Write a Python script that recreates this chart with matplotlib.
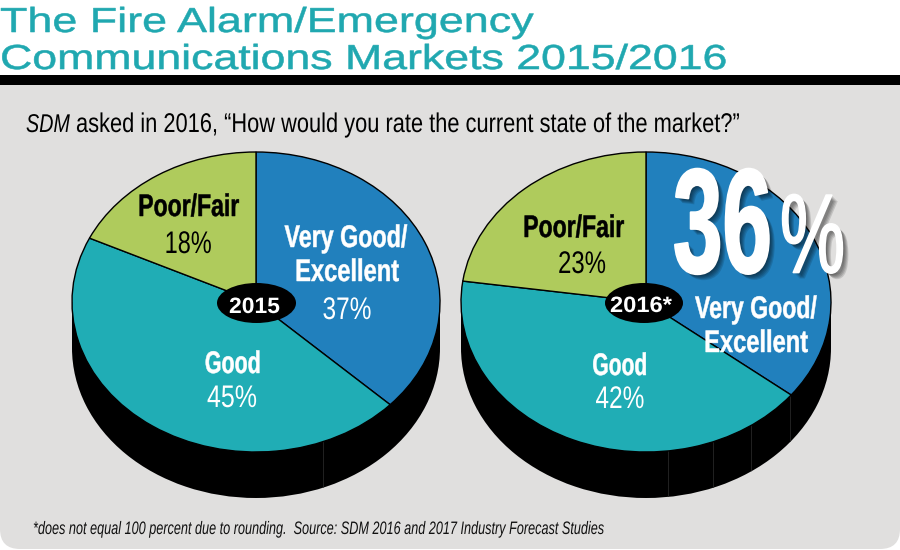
import matplotlib
matplotlib.use('Agg')
import matplotlib.pyplot as plt
from matplotlib.patches import FancyBboxPatch, Rectangle, Ellipse
from matplotlib.patheffects import AbstractPathEffect
from matplotlib.text import Text
from matplotlib.transforms import Affine2D, Bbox

# shares, clockwise from 12 o'clock
shares_2015 = [37, 45, 18]
shares_2016 = [36, 42, 23]
colors = ['#2180bd', '#20adb5', '#afcb5c']
title_lines = ['The Fire Alarm/Emergency', 'Communications Markets 2015/2016']
question = 'asked in 2016, \u201cHow would you rate the current state of the market?\u201d'
footnote = '*does not equal 100 percent due to rounding.  Source: SDM 2016 and 2017 Industry Forecast Studies'

W, H = 900, 550
FONT = 'Liberation Sans'
TEAL = '#20a8b0'


class Stretch(AbstractPathEffect):
    # rescales a glyph run horizontally, with optional outline and soft drop shadow
    def __init__(self, xscale, centered, shadow=False, stroke=0):
        super().__init__()
        self.xscale, self.centered, self.shadow, self.stroke = xscale, centered, shadow, stroke

    def draw_path(self, renderer, gc, tpath, affine, rgbFace=None):
        box = tpath.get_extents()
        c = (box.x0 + box.x1) / 2 if self.centered else 0
        t = Affine2D().translate(-c, 0).scale(self.xscale, 1).translate(c, 0) + affine
        if self.shadow:
            for d in range(1, 7):
                gc0 = renderer.new_gc()
                gc0.copy_properties(gc)
                gc0.set_alpha(0.13)
                renderer.draw_path(gc0, tpath, t + Affine2D().translate(d, -d), (0, 0, 0))
                gc0.restore()
        if self.stroke:
            gc.set_linewidth(self.stroke)
            gc.set_foreground(rgbFace, isRGBA=True)
        renderer.draw_path(gc, tpath, t, rgbFace)


class FitText(Text):
    # text whose reported extent follows the horizontal rescale
    xscale = 1.0

    def get_window_extent(self, renderer=None, dpi=None):
        box = super().get_window_extent(renderer, dpi)
        x0 = box.x0 + box.width / 2 if self.get_ha() == 'center' else box.x0
        return Bbox([[x0 + (box.x0 - x0) * self.xscale, box.y0],
                     [x0 + (box.x1 - x0) * self.xscale, box.y1]])


def put(x, y, s, width, size, color='black', shadow=False, stroke=0, **kw):
    t = FitText(x, y, s, color=color, fontsize=size, family=FONT, va='baseline', **kw)
    top.add_artist(t)
    natural = t.get_window_extent(fig.canvas.get_renderer()).width
    t.xscale = width / natural
    t.set_path_effects([Stretch(t.xscale, t.get_ha() == 'center', shadow, stroke)])
    return t


def draw_pie(cx, rx, shares, side_lines):
    cy, ry, depth = 302, 150, 46
    # axes spans the top face plus the black rim below it
    ax = fig.add_axes([(cx - rx) / W, 1 - (cy + ry + depth) / H, 2 * rx / W, (2 * ry + depth) / H])
    rim, _ = ax.pie([1], colors=['black'], radius=1, center=(0, -depth / ry), startangle=90,
                    wedgeprops={'linewidth': 0})
    ax.add_patch(Rectangle((-1, -depth / ry), 2, depth / ry, color='black', lw=0))
    for x in side_lines:
        line, = ax.plot([x, x], [-1.4, -0.5], color='#222222', lw=0.7, zorder=1.5)
        line.set_clip_path(rim[0])
    ax.pie(shares, colors=colors, radius=1, startangle=90, counterclock=False,
           wedgeprops={'linewidth': 1.0, 'edgecolor': 'black', 'zorder': 2})
    ax.set_aspect('auto')
    ax.set_xlim(-1, 1)
    ax.set_ylim(-1 - depth / ry, 1)
    ax.axis('off')
    ax.patch.set_alpha(0)


fig = plt.figure(figsize=(W / 100, H / 100), dpi=100, facecolor='white')
bg = fig.add_axes([0, 0, 1, 1])
bg.set_xlim(0, W)
bg.set_ylim(H, 0)
bg.axis('off')
bg.add_patch(FancyBboxPatch((0, 40), W, 509, boxstyle='round,pad=0,rounding_size=20',
                            fc='#e0dfde', ec='none'))
bg.add_patch(Rectangle((0, 0), W, 75, fc='white', ec='none'))
bg.add_patch(Rectangle((0, 75), W, 10, fc='black', ec='none'))

draw_pie(256, 184, shares_2015, [0.364])
draw_pie(646, 185, shares_2016, [0.119, 0.362, 0.568, 0.778])

top = fig.add_axes([0, 0, 1, 1])
top.set_xlim(0, W)
top.set_ylim(H, 0)
top.axis('off')
top.patch.set_alpha(0)

# header
put(0, 32, title_lines[0], 534, 25, TEAL, stroke=0.4)
put(0, 69, title_lines[1], 728, 25, TEAL, stroke=0.4)
put(26, 132, 'SDM', 44, 18.5, style='italic')
put(76, 132, question, 665, 19.5)
put(33, 534, footnote, 569, 13, color='#111111', style='italic')

# year badges in the middle of each pie
top.add_patch(Ellipse((256.5, 303), 79, 40, fc='black', ec='none'))
put(254.5, 313, '2015', 51, 16, 'white', weight='bold', ha='center')
top.add_patch(Ellipse((644, 303), 78, 40, fc='black', ec='none'))
put(641, 312, '2016*', 62, 16, 'white', weight='bold', ha='center')

# 2015 slice labels
bold = {'weight': 'bold', 'ha': 'center', 'stroke': 0.35}
put(346, 247, 'Very Good/', 123, 22.5, 'white', **bold)
put(347, 281, 'Excellent', 104, 22.5, 'white', **bold)
put(347, 319, f'{shares_2015[0]}%', 49, 22.5, 'white', ha='center')
put(233, 373, 'Good', 56, 22.5, 'white', **bold)
put(232, 407, f'{shares_2015[1]}%', 50, 22.5, 'white', ha='center')
put(188.5, 216, 'Poor/Fair', 101, 22.5, **bold)
put(188, 253, f'{shares_2015[2]}%', 47, 22.5, ha='center')

# 2016 slice labels
put(573.5, 237, 'Poor/Fair', 101, 22.5, **bold)
put(582, 273, f'{shares_2016[2]}%', 48, 22.5, ha='center')
put(620, 375, 'Good', 55, 22.5, 'white', **bold)
put(620, 408, f'{shares_2016[1]}%', 49, 22.5, 'white', ha='center')
put(756, 318, 'Very Good/', 122, 22.5, 'white', **bold)
put(756, 352, 'Excellent', 104, 22.5, 'white', **bold)

# oversized callout
put(673, 272.5, f'{shares_2016[0]}', 99, 107, 'white', shadow=True, stroke=1.5, weight='bold')
put(780, 272.5, '%', 65, 81, 'white', shadow=True, stroke=1.2)

fig.savefig('out.png', dpi=100)
